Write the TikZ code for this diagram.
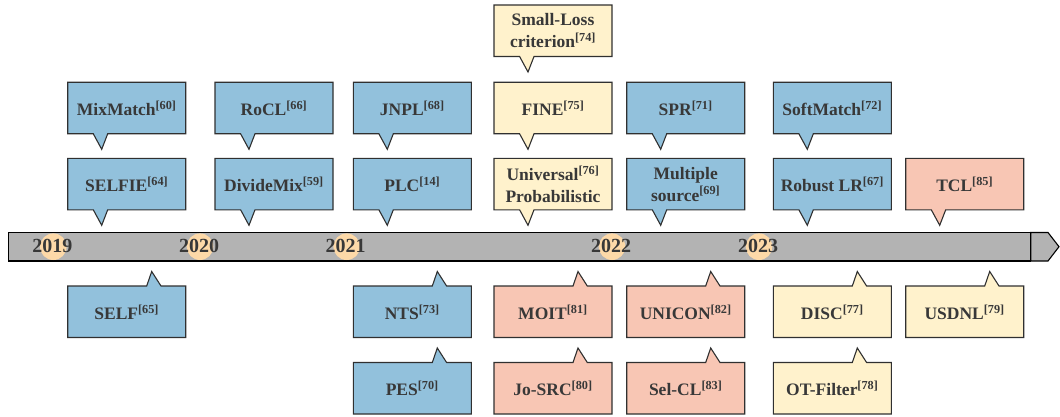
\documentclass[tikz,border=0pt]{standalone}
\usepackage{fontspec}
\setmainfont{Liberation Serif}
\definecolor{cblue}{HTML}{92C1DC}
\definecolor{cyellow}{HTML}{FFF2CC}
\definecolor{csalmon}{HTML}{F8C6B4}
\definecolor{ccircle}{HTML}{FDD9A8}
\definecolor{cbar}{HTML}{B3B3B3}
\definecolor{ctext}{HTML}{383838}
\definecolor{cline}{HTML}{303030}
\newcommand\rf[1]{\textsuperscript{[#1]}}
\tikzset{
  callout/.style={draw=cline, line width=1.1pt, line join=miter},
  lbl/.style={text=ctext, font=\bfseries\fontsize{17.5}{22}\selectfont, align=center, inner sep=0pt},
  yeartxt/.style={text=ctext, font=\bfseries\fontsize{20}{22}\selectfont, inner sep=0pt},
}
% x, ytop, colour, name, text
\newcommand\downcall[5]{%
  \filldraw[callout, fill=#3] (#1,#2) -- ({#1+118},#2) -- ({#1+118},{#2+51.5}) -- ({#1+40},{#2+51.5}) -- ({#1+34},{#2+67}) -- ({#1+25.6},{#2+51.5}) -- (#1,{#2+51.5}) -- cycle;
  \node[lbl] (#4) at ({#1+59},{#2+26}) {#5};
}
\newcommand\upcall[5]{%
  \filldraw[callout, fill=#3] (#1,#2) -- ({#1+79},#2) -- ({#1+84},{#2-14.5}) -- ({#1+93.3},#2) -- ({#1+118},#2) -- ({#1+118},{#2+51.5}) -- (#1,{#2+51.5}) -- cycle;
  \node[lbl] (#4) at ({#1+59},{#2+26}) {#5};
}
\begin{document}
\begin{tikzpicture}[x=1pt,y=-1pt]
\useasboundingbox (0,0) rectangle (1060,417);
% timeline bar
\filldraw[fill=cbar, draw=black, line width=1.1pt] (8.3,232.5) rectangle (1030.7,261);
\filldraw[fill=cbar, draw=black, line width=1.1pt, line join=miter] (1030.7,232.5) -- (1048,232.5) -- (1059,246.7) -- (1048,261) -- (1030.7,261) -- cycle;
% year marks
\foreach \yx/\yr in {53.3/2019, 200/2020, 346.7/2021, 612/2022, 759/2023}{
  \fill[ccircle] (\yx,246.7) circle (13.3pt);
  \node[yeartxt] (y\yr) at (\yx-1,245.5) {\yr};
}
% top callouts
\downcall{494}{5}{cyellow}{smallloss}{Small-Loss\\criterion\rf{74}}
\downcall{67.7}{82.3}{cblue}{mixmatch}{MixMatch\rf{60}}
\downcall{215}{82.3}{cblue}{rocl}{RoCL\rf{66}}
\downcall{353.3}{82.3}{cblue}{jnpl}{JNPL\rf{68}}
\downcall{494}{82.3}{cyellow}{fine}{FINE\rf{75}}
\downcall{626.7}{82.3}{cblue}{spr}{SPR\rf{71}}
\downcall{773.3}{82.3}{cblue}{softmatch}{SoftMatch\rf{72}}
\downcall{67.7}{158.3}{cblue}{selfie}{SELFIE\rf{64}}
\downcall{215}{158.3}{cblue}{dividemix}{DivideMix\rf{59}}
\downcall{353.3}{158.3}{cblue}{plc}{PLC\rf{14}}
\downcall{494}{158.3}{cyellow}{universal}{Universal\rf{76}\\Probabilistic}
\downcall{626.7}{158.3}{cblue}{multiple}{Multiple\\source\rf{69}}
\downcall{773.3}{158.3}{cblue}{robustlr}{Robust LR\rf{67}}
\downcall{905.7}{158.3}{csalmon}{tcl}{TCL\rf{85}}
% bottom callouts
\upcall{67.7}{286}{cblue}{self}{SELF\rf{65}}
\upcall{353.3}{286}{cblue}{nts}{NTS\rf{73}}
\upcall{494}{286}{csalmon}{moit}{MOIT\rf{81}}
\upcall{626.7}{286}{csalmon}{unicon}{UNICON\rf{82}}
\upcall{773.3}{286}{cyellow}{disc}{DISC\rf{77}}
\upcall{905.7}{286}{cyellow}{usdnl}{USDNL\rf{79}}
\upcall{353.3}{362.5}{cblue}{pes}{PES\rf{70}}
\upcall{494}{362.5}{csalmon}{josrc}{Jo-SRC\rf{80}}
\upcall{626.7}{362.5}{csalmon}{selcl}{Sel-CL\rf{83}}
\upcall{773.3}{362.5}{cyellow}{otfilter}{OT-Filter\rf{78}}
\end{tikzpicture}
\end{document}
